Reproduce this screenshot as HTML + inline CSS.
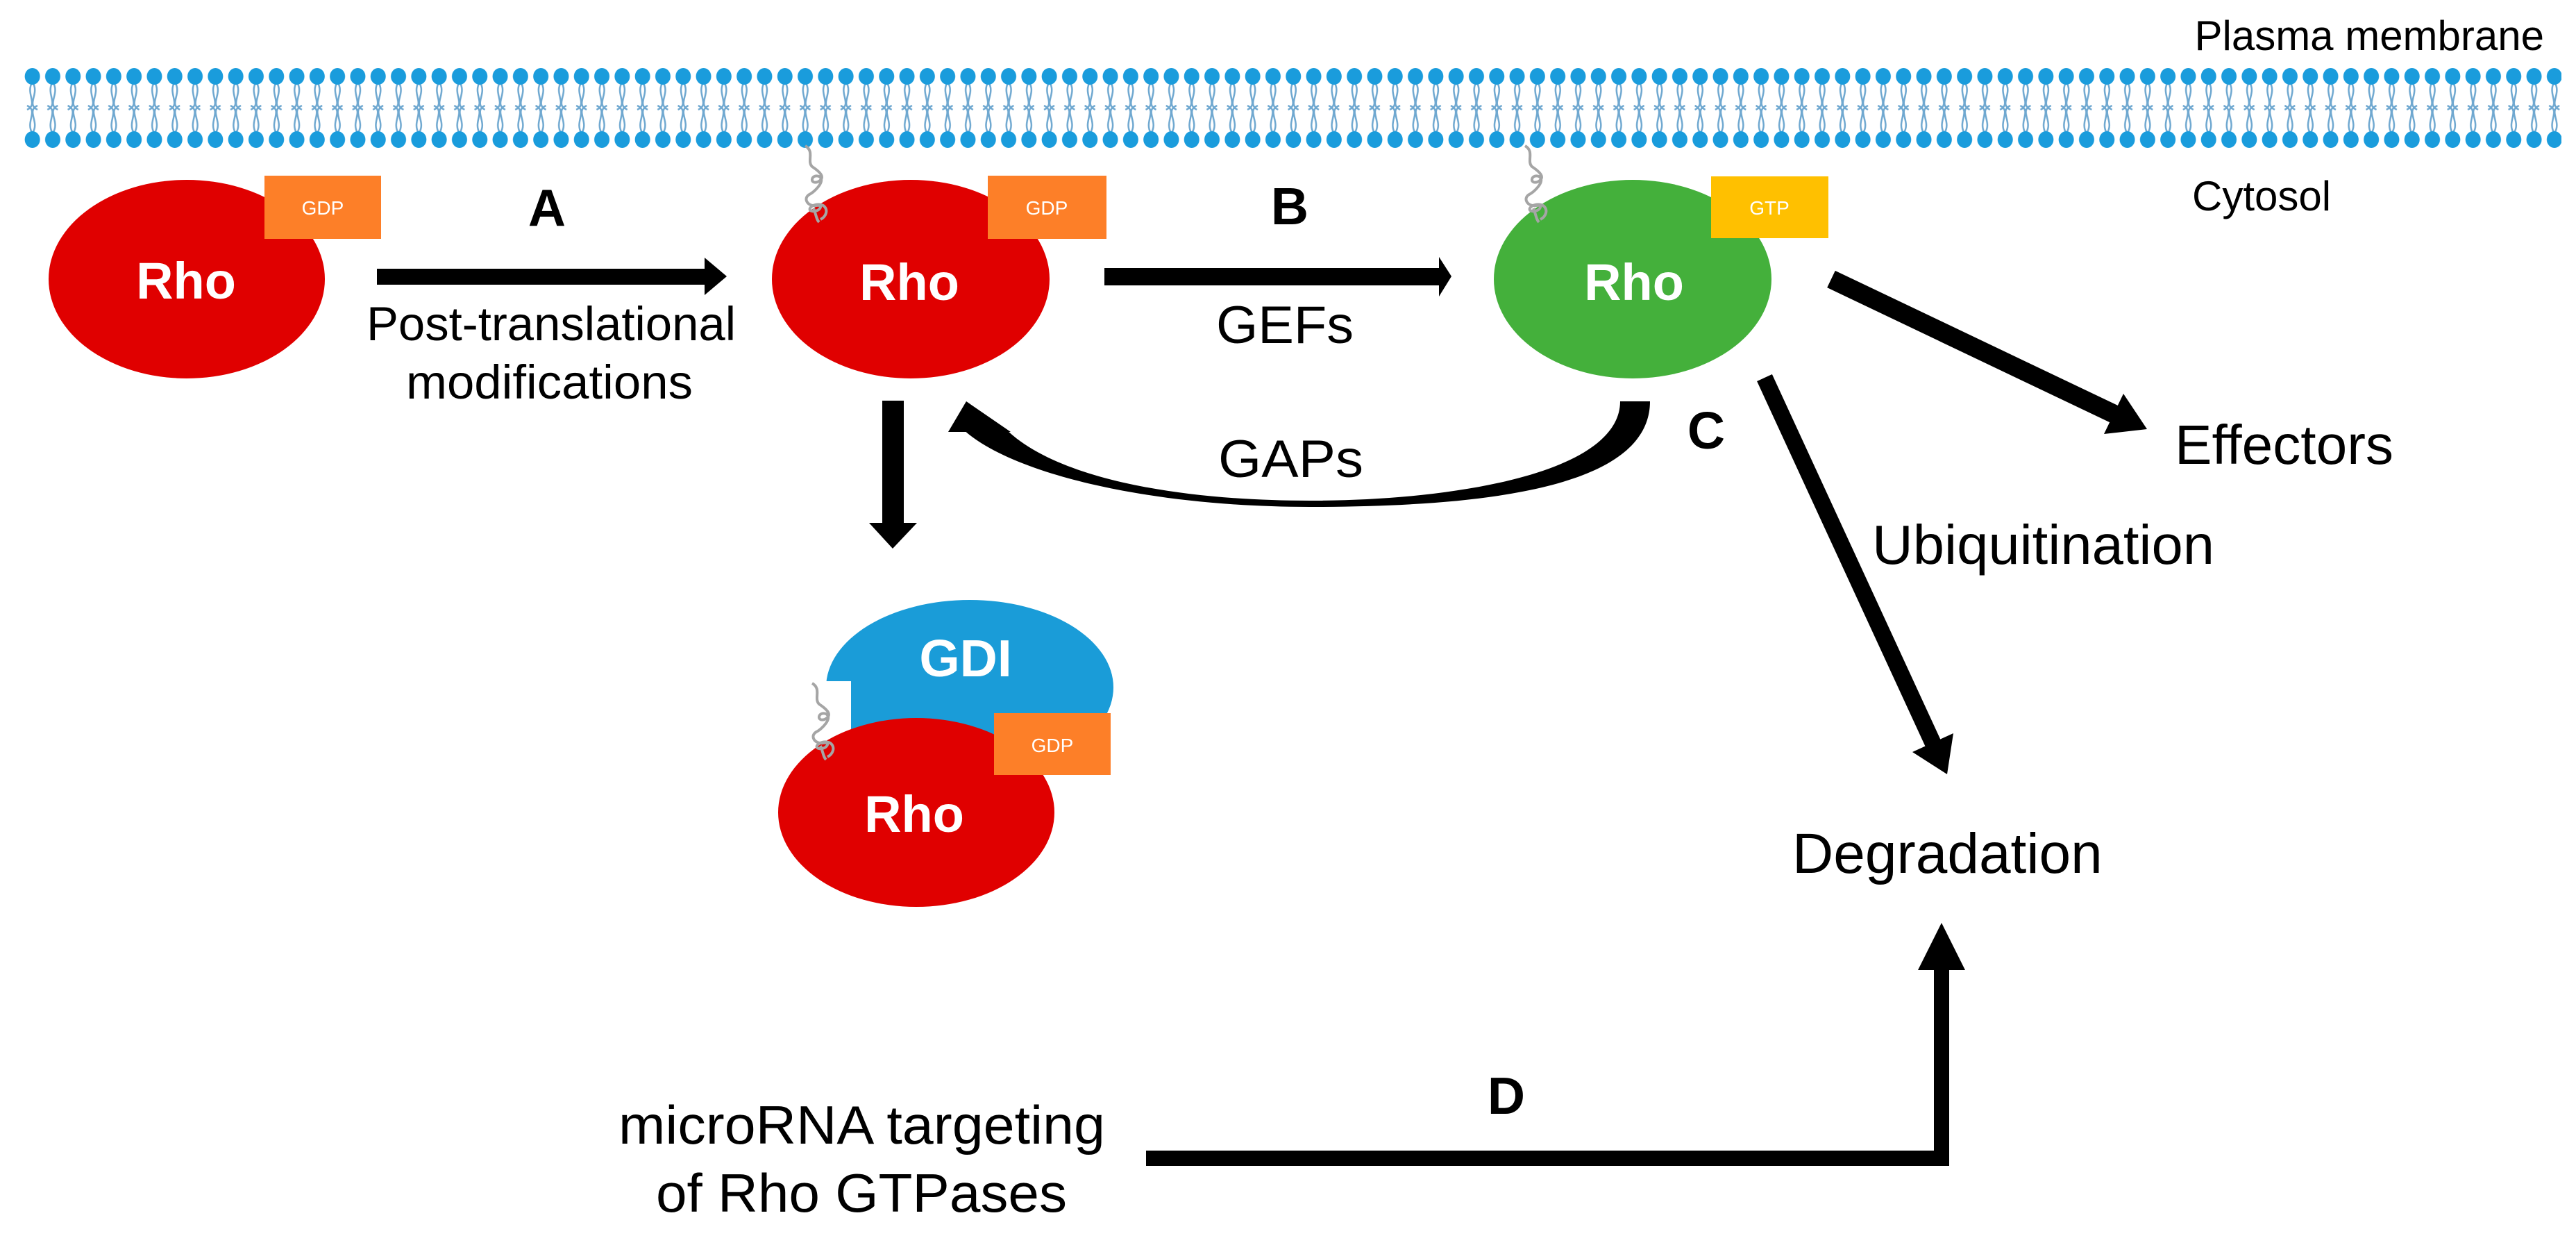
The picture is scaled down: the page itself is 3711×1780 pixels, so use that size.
<!DOCTYPE html>
<html><head><meta charset="utf-8"><style>
html,body{margin:0;padding:0;background:#fff;}
svg{display:block;}
text{font-family:"Liberation Sans",Arial,sans-serif;}
</style></head><body>
<svg width="3711" height="1780" viewBox="0 0 3711 1780" xmlns="http://www.w3.org/2000/svg">
<defs>
<pattern id="lip" x="32" y="0" width="29.3" height="1780" patternUnits="userSpaceOnUse">
  <path d="M14.65 118 C4 135, 24 150, 7 158 M14.65 118 C26 135, 5 150, 22 158 M14.65 192 C4 175, 24 160, 7 152 M14.65 192 C26 175, 5 160, 22 152" fill="none" stroke="#6fa8d0" stroke-width="2.5"/>
  <ellipse cx="14.65" cy="110" rx="11" ry="12" fill="#1a9cdc"/>
  <ellipse cx="14.65" cy="201" rx="11" ry="12" fill="#1a9cdc"/>
</pattern>
<g id="sq">
  <path d="M0 0 C14 8, 2 22, 10 30 C22 38, 30 46, 18 52 C6 56, 8 40, 20 44 C30 50, 14 66, 6 70 C-4 76, 4 88, 16 86 C28 84, 20 96, 10 94 C0 92, 14 80, 26 86 C34 92, 30 102, 22 106 M12 90 C16 100, 16 106, 20 110" fill="none" stroke="#a5a5a5" stroke-width="4"/>
</g>
</defs>

<!-- membrane -->
<rect x="32" y="95" width="3658" height="122" fill="url(#lip)"/>
<text x="3665" y="72" font-size="60" text-anchor="end">Plasma membrane</text>
<text x="3158" y="303" font-size="60">Cytosol</text>

<!-- Rho 1 -->
<ellipse cx="269" cy="402" rx="199" ry="143" fill="#e00000"/>
<rect x="381" y="253" width="168" height="91" fill="#fd7f28"/>
<text x="465" y="309" font-size="28" fill="#fff" text-anchor="middle">GDP</text>
<text x="268" y="430" font-size="74" font-weight="bold" fill="#fff" text-anchor="middle">Rho</text>

<!-- Arrow A -->
<rect x="543" y="387" width="474" height="23" fill="#000"/>
<polygon points="1015,371 1047,398 1015,425" fill="#000"/>
<text x="788" y="325" font-size="75" font-weight="bold" text-anchor="middle">A</text>
<text x="528" y="490" font-size="69" textLength="532" lengthAdjust="spacingAndGlyphs">Post-translational</text>
<text x="585" y="574" font-size="69" textLength="413" lengthAdjust="spacingAndGlyphs">modifications</text>

<!-- Rho 2 -->
<ellipse cx="1312" cy="402" rx="200" ry="143" fill="#e00000"/>
<use href="#sq" x="1160" y="210"/>
<rect x="1423" y="253" width="171" height="91" fill="#fd7f28"/>
<text x="1508" y="309" font-size="28" fill="#fff" text-anchor="middle">GDP</text>
<text x="1310" y="432" font-size="74" font-weight="bold" fill="#fff" text-anchor="middle">Rho</text>

<!-- Arrow B -->
<rect x="1591" y="386" width="484" height="25" fill="#000"/>
<polygon points="2073,370 2091,398 2073,427" fill="#000"/>
<text x="1858" y="323" font-size="75" font-weight="bold" text-anchor="middle">B</text>
<text x="1752" y="494" font-size="76" textLength="198" lengthAdjust="spacingAndGlyphs">GEFs</text>

<!-- Rho 3 green -->
<ellipse cx="2352" cy="402" rx="200" ry="143" fill="#44b03b"/>
<use href="#sq" x="2197" y="210"/>
<rect x="2465" y="254" width="169" height="89" fill="#ffc000"/>
<text x="2549" y="309" font-size="28" fill="#fff" text-anchor="middle">GTP</text>
<text x="2354" y="432" font-size="74" font-weight="bold" fill="#fff" text-anchor="middle">Rho</text>

<!-- GAPs curved arrow -->
<path d="M2377 578 C2377 700, 2150 730, 1887 730 C1650 730, 1450 680, 1385 616 L1447 616 C1520 690, 1700 721, 1887 721 C2100 721, 2334 680, 2334 578 Z" fill="#000"/>
<polygon points="1392,578 1366,622 1456,622" fill="#000"/>
<text x="1755" y="687" font-size="76" textLength="209" lengthAdjust="spacingAndGlyphs">GAPs</text>
<text x="2458" y="646" font-size="75" font-weight="bold" text-anchor="middle">C</text>

<!-- Down arrow -->
<rect x="1271" y="577" width="31" height="178" fill="#000"/>
<polygon points="1252,753 1321,753 1286,790" fill="#000"/>

<!-- GDI complex -->
<ellipse cx="1397" cy="990" rx="207" ry="126" fill="#1a9cd8"/>
<rect x="1180" y="981" width="46" height="72" fill="#fff"/>
<ellipse cx="1320" cy="1170" rx="199" ry="136" fill="#e00000"/>
<use href="#sq" x="1170" y="984"/>
<rect x="1432" y="1027" width="168" height="89" fill="#fd7f28"/>
<text x="1516" y="1083" font-size="28" fill="#fff" text-anchor="middle">GDP</text>
<text x="1391" y="974" font-size="75" font-weight="bold" fill="#fff" text-anchor="middle">GDI</text>
<text x="1317" y="1198" font-size="74" font-weight="bold" fill="#fff" text-anchor="middle">Rho</text>

<!-- Effectors arrow -->
<line x1="2638" y1="402" x2="3047" y2="597" stroke="#000" stroke-width="27"/>
<polygon points="3093,618 3031,625 3059,567" fill="#000"/>
<text x="3133" y="668" font-size="80" textLength="315" lengthAdjust="spacingAndGlyphs">Effectors</text>

<!-- Ubiquitination arrow -->
<line x1="2542" y1="544" x2="2785" y2="1071" stroke="#000" stroke-width="24"/>
<polygon points="2805,1115 2814,1056 2755,1083" fill="#000"/>
<text x="2697" y="812" font-size="80" textLength="493" lengthAdjust="spacingAndGlyphs">Ubiquitination</text>

<text x="2582" y="1257" font-size="82">Degradation</text>

<!-- Arrow D -->
<rect x="1651" y="1657" width="1157" height="22" fill="#000"/>
<rect x="2786" y="1395" width="22" height="284" fill="#000"/>
<polygon points="2763,1397 2831,1397 2797,1329" fill="#000"/>
<text x="2170" y="1604" font-size="75" font-weight="bold" text-anchor="middle">D</text>
<text x="891" y="1647" font-size="78" textLength="701" lengthAdjust="spacingAndGlyphs">microRNA targeting</text>
<text x="945" y="1745" font-size="78" textLength="592" lengthAdjust="spacingAndGlyphs">of Rho GTPases</text>
</svg>
</body></html>
